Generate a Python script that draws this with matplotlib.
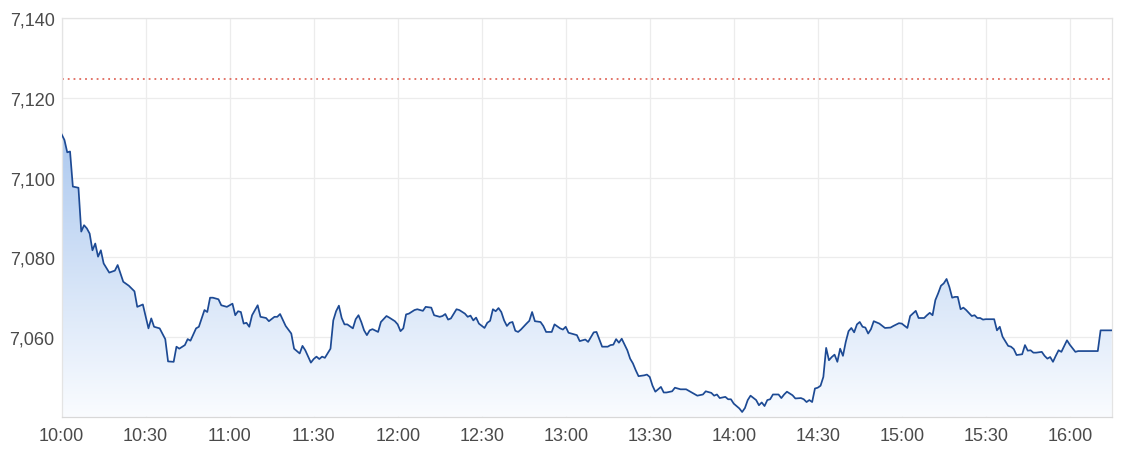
import matplotlib
matplotlib.use("Agg")
import matplotlib.pyplot as plt
import numpy as np
from matplotlib.colors import LinearSegmentedColormap
from matplotlib.patches import Polygon

# ---- data ----
minutes_after_open = [
    0, 1, 2, 3, 4, 6, 7, 8, 9, 10, 11, 12, 13, 14, 15, 17, 19, 20, 22, 24, 26, 27, 29, 31, 32, 33, 35, 37, 38, 40,
    41, 42, 44, 45, 46, 48, 49, 51, 52, 53, 54, 56, 57, 59, 61, 62, 63, 64, 65, 66, 67, 68, 70, 71, 73, 74, 76, 77, 78, 80,
    82, 83, 85, 86, 87, 89, 90, 91, 92, 93, 94, 96, 97, 98, 99, 100, 101, 102, 104, 105, 106, 107, 108, 109, 110, 111, 113, 114, 116, 117,
    119, 120, 121, 122, 123, 124, 126, 127, 129, 130, 132, 133, 135, 136, 137, 138, 139, 141, 142, 144, 145, 146, 147, 148, 149, 151, 152, 153, 154, 155,
    156, 157, 158, 159, 160, 161, 162, 163, 164, 166, 167, 168, 169, 171, 172, 173, 175, 176, 178, 179, 180, 181, 183, 184, 185, 187, 188, 190, 191, 193,
    195, 196, 197, 198, 199, 200, 202, 203, 204, 205, 206, 208, 209, 210, 211, 212, 214, 215, 216, 218, 219, 221, 223, 225, 227, 229, 230, 232, 233, 234,
    235, 237, 238, 239, 240, 242, 243, 244, 245, 246, 248, 249, 250, 251, 252, 253, 254, 256, 257, 258, 259, 261, 262, 264, 265, 266, 267, 268, 269, 270,
    271, 272, 273, 274, 275, 276, 277, 278, 279, 280, 281, 282, 283, 284, 285, 286, 287, 288, 289, 290, 292, 294, 296, 297, 299, 300, 302, 303, 305, 306,
    308, 309, 310, 311, 312, 313, 314, 315, 316, 317, 318, 319, 320, 321, 322, 323, 325, 326, 327, 328, 329, 330, 333, 334, 335, 336, 338, 339, 340, 341,
    342, 343, 344, 345, 346, 347, 348, 350, 351, 352, 353, 354, 355, 356, 357, 359, 360, 362, 363, 370, 371, 375,
]
index_values = [
    7110.9, 7109.5, 7106.4, 7106.6, 7097.8, 7097.5, 7086.5, 7088.1, 7087.3, 7086.0, 7081.8, 7083.5, 7080.2, 7081.8, 7078.5, 7076.2, 7076.7, 7078.1, 7073.9, 7072.9,
    7071.5, 7067.6, 7068.2, 7062.2, 7064.7, 7062.6, 7062.2, 7059.5, 7053.9, 7053.8,
    7057.6, 7057.1, 7058.0, 7059.5, 7059.1, 7062.2, 7062.6, 7066.8, 7066.3, 7069.9, 7069.9, 7069.5, 7068.0, 7067.6, 7068.4, 7065.5, 7066.5, 7066.3, 7063.4, 7063.6,
    7062.6, 7065.5, 7068.0, 7065.1, 7064.8, 7064.0, 7065.1, 7065.1, 7065.8, 7062.8,
    7060.9, 7057.1, 7055.9, 7057.8, 7056.7, 7053.6, 7054.5, 7055.1, 7054.5, 7055.1, 7054.8, 7057.1, 7064.2, 7066.5, 7067.9, 7064.8, 7063.2, 7063.2, 7062.2, 7064.5,
    7065.5, 7063.8, 7061.7, 7060.5, 7061.7, 7062.0, 7061.3, 7063.8, 7065.3, 7064.9,
    7064.0, 7063.2, 7061.5, 7062.2, 7065.7, 7065.9, 7066.8, 7067.0, 7066.6, 7067.6, 7067.4, 7065.5, 7065.1, 7065.3, 7065.8, 7064.4, 7064.7, 7067.0, 7066.8, 7065.9,
    7065.1, 7065.4, 7064.2, 7064.9, 7063.4, 7062.3, 7063.6, 7064.1, 7067.0, 7066.5,
    7067.3, 7066.3, 7064.2, 7062.8, 7063.6, 7063.8, 7061.6, 7061.3, 7061.9, 7063.4, 7064.1, 7066.3, 7064.0, 7063.8, 7062.8, 7061.3, 7061.3, 7063.2, 7062.2, 7061.9,
    7062.6, 7061.1, 7060.7, 7060.5, 7059.0, 7059.4, 7058.8, 7061.2, 7061.3, 7057.6,
    7057.6, 7058.0, 7058.1, 7059.5, 7058.6, 7059.6, 7056.7, 7054.6, 7053.4, 7051.7, 7050.2, 7050.4, 7050.6, 7050.0, 7047.8, 7046.3, 7047.5, 7046.1, 7046.1, 7046.4,
    7047.3, 7046.9, 7046.9, 7046.1, 7045.3, 7045.6, 7046.4, 7046.0, 7045.3, 7045.6,
    7044.7, 7045.0, 7044.4, 7044.4, 7043.3, 7042.1, 7041.2, 7042.2, 7044.2, 7045.3, 7044.2, 7042.9, 7043.6, 7042.7, 7044.2, 7044.4, 7045.6, 7045.6, 7044.7, 7045.6,
    7046.3, 7045.4, 7044.6, 7044.7, 7044.4, 7043.7, 7044.2, 7043.7, 7047.1, 7047.3,
    7047.8, 7050.0, 7057.3, 7054.2, 7055.0, 7055.6, 7053.8, 7057.1, 7055.3, 7058.8, 7061.5, 7062.3, 7061.2, 7063.2, 7063.8, 7062.6, 7062.4, 7060.9, 7062.0, 7064.0,
    7063.4, 7062.3, 7062.4, 7062.8, 7063.5, 7063.4, 7062.3, 7065.3, 7066.6, 7064.8,
    7064.8, 7065.5, 7066.1, 7065.5, 7069.3, 7071.0, 7072.9, 7073.5, 7074.6, 7072.6, 7069.9, 7070.1, 7070.1, 7067.0, 7067.4, 7066.8, 7065.3, 7065.5, 7064.8, 7064.8,
    7064.4, 7064.5, 7064.5, 7061.7, 7062.6, 7060.1, 7057.8, 7057.6, 7057.0, 7055.5,
    7055.6, 7055.7, 7058.0, 7056.6, 7056.7, 7056.1, 7056.1, 7056.3, 7055.3, 7054.6, 7055.0, 7053.8, 7055.3, 7056.7, 7056.3, 7059.2, 7058.1, 7056.3, 7056.5, 7056.5,
    7061.7, 7061.7,
]
previous_close = 7124.8
x_tick_minutes = [0, 30, 60, 90, 120, 150, 180, 210, 240, 270, 300, 330, 360]
x_tick_labels = ["10:00", "10:30", "11:00", "11:30", "12:00", "12:30", "13:00",
                 "13:30", "14:00", "14:30", "15:00", "15:30", "16:00"]
y_ticks = [7060, 7080, 7100, 7120, 7140]
session_length = 375
y_bottom, y_top = 7040, 7140

# ---- figure ----
plt.rcParams['font.family'] = ['Liberation Sans', 'DejaVu Sans']
fig = plt.figure(figsize=(11.27, 4.52), dpi=100)
ax = fig.add_axes([0.0547, 0.0757, 0.9318, 0.8812])

x = np.array(minutes_after_open, dtype=float)
y = np.array(index_values, dtype=float)

ax.set_xlim(0, session_length)
ax.set_ylim(y_bottom, y_top)

# gradient fill under line
cmap = LinearSegmentedColormap.from_list("fillgrad", ["#fafcff", "#adc9ef"])
grad = np.linspace(0, 1, 256).reshape(-1, 1)
top_val = y.max()
im = ax.imshow(grad, aspect='auto', cmap=cmap, origin='lower',
               extent=[0, session_length, y_bottom, top_val], zorder=1, interpolation='bilinear')
poly_pts = np.column_stack([np.concatenate([[x[0]], x, [x[-1]]]),
                            np.concatenate([[y_bottom], y, [y_bottom]])])
poly = Polygon(poly_pts, closed=True, facecolor='none', edgecolor='none')
ax.add_patch(poly)
im.set_clip_path(poly)

ax.plot(x, y, color="#1d4a94", lw=1.25, zorder=3, solid_joinstyle='round')
ax.axhline(previous_close, color="#e06a5e", lw=1.3, linestyle=(0, (1, 2.2)), zorder=2)

ax.set_xticks(x_tick_minutes)
ax.set_xticklabels(x_tick_labels)
ax.set_yticks(y_ticks)
ax.set_yticklabels([f"{v:,}" for v in y_ticks])
ax.grid(True, color="#ececec", lw=0.9, zorder=0)
ax.set_axisbelow(True)
ax.tick_params(length=0, labelsize=13, labelcolor="#4a4a4a")
ax.tick_params(axis='y', pad=5)
ax.tick_params(axis='x', pad=7)
for name, sp in ax.spines.items():
    sp.set_color("#e4e4e4")
    sp.set_linewidth(0.9)
ax.spines['bottom'].set_color("#d8d8d8")

fig.savefig("out.png", dpi=100)
